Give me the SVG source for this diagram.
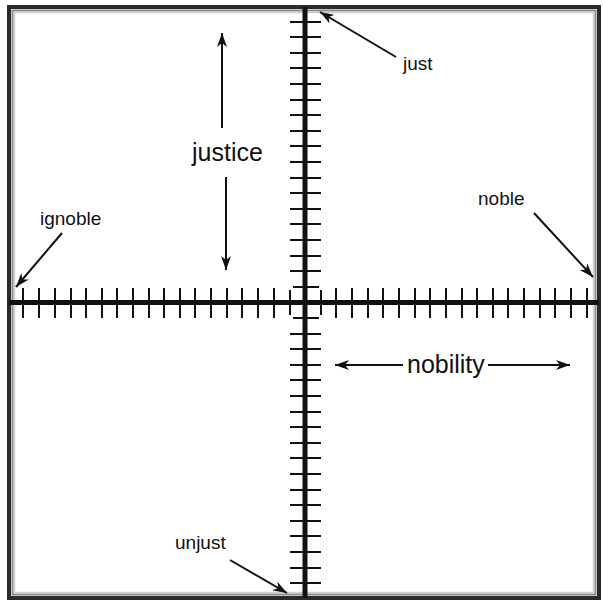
<svg xmlns="http://www.w3.org/2000/svg" width="603" height="602" viewBox="0 0 603 602">
<style>
.lbl{font-family:"Liberation Sans",Arial,sans-serif;fill:#111}
.sm{font-size:19px}
.lg{font-size:25px}
.arr{stroke:#111;stroke-width:2;fill:none;marker-end:url(#ah)}
.tick{stroke:#111;stroke-width:2;fill:none}
.axis{stroke:#111;stroke-width:5;fill:none}
</style>
<defs>
<marker id="ah" markerUnits="userSpaceOnUse" markerWidth="15" markerHeight="10" refX="14" refY="5" orient="auto">
<path d="M0,0 L14,5 L0,10 L4,5 Z" fill="#111"/>
</marker>
</defs>
<rect width="603" height="602" fill="#fff"/>
<g id="frame" fill="none">
<rect x="9" y="7" width="590" height="591" stroke="#2a2a2a" stroke-width="4"/>
<rect x="12.5" y="10.5" width="583" height="584" stroke="#8a8a8a" stroke-width="2"/>
<rect x="14.5" y="12.5" width="579" height="580" stroke="#cfcfcf" stroke-width="1.5"/>
</g>
<g id="axes">
<path class="tick" d="M23,288V318M39,288V318M55,288V318M71,288V318M86,288V318M102,288V318M117,288V318M133,288V318M149,288V318M164,288V318M180,288V318M195,288V318M211,288V318M227,288V318M242,288V318M258,288V318M274,288V318M290,290V315M321,290V315M336,288V318M352,288V318M368,288V318M383,288V318M399,288V318M415,288V318M430,288V318M446,288V318M462,288V318M477,288V318M493,288V318M508,288V318M524,288V318M540,288V318M555,288V318M571,288V318M587,288V318"/>
<path class="tick" d="M290,22H321M290,37H321M290,53H321M290,68H321M290,84H321M290,100H321M290,115H321M290,131H321M290,146H321M290,162H321M290,178H321M290,193H321M290,209H321M290,224H321M290,240H321M290,256H321M290,271H321M293,287H319M293,318H319M290,334H321M290,349H321M290,365H321M290,380H321M290,396H321M290,412H321M290,427H321M290,443H321M290,458H321M290,474H321M290,490H321M290,505H321M290,521H321M290,536H321M290,552H321M290,568H321M290,583H321"/>
<line id="x-axis" class="axis" x1="9" y1="302.5" x2="599" y2="302.5"/>
<line id="y-axis" class="axis" x1="305" y1="7" x2="305" y2="598"/>
</g>
<g id="connectors">
<line class="arr" x1="396" y1="57" x2="320" y2="12"/>
<line class="arr" x1="62" y1="233" x2="16" y2="287"/>
<line class="arr" x1="534" y1="213" x2="593" y2="277"/>
<line class="arr" x1="230" y1="560" x2="287" y2="593"/>
<line class="arr" x1="403" y1="365" x2="335" y2="365"/>
<line class="arr" x1="488" y1="365" x2="570" y2="365"/>
<line class="arr" x1="222" y1="128" x2="222" y2="33"/>
<line class="arr" x1="226" y1="177" x2="226" y2="270"/>
</g>
<g id="label-just"><text class="lbl sm" x="403" y="70">just</text></g>
<g id="label-ignoble"><text class="lbl sm" x="40" y="225">ignoble</text></g>
<g id="label-noble"><text class="lbl sm" x="478" y="205">noble</text></g>
<g id="label-unjust"><text class="lbl sm" x="175" y="549">unjust</text></g>
<g id="label-justice"><text class="lbl lg" x="192" y="161">justice</text></g>
<g id="label-nobility"><text class="lbl lg" x="407" y="373">nobility</text></g>
</svg>
